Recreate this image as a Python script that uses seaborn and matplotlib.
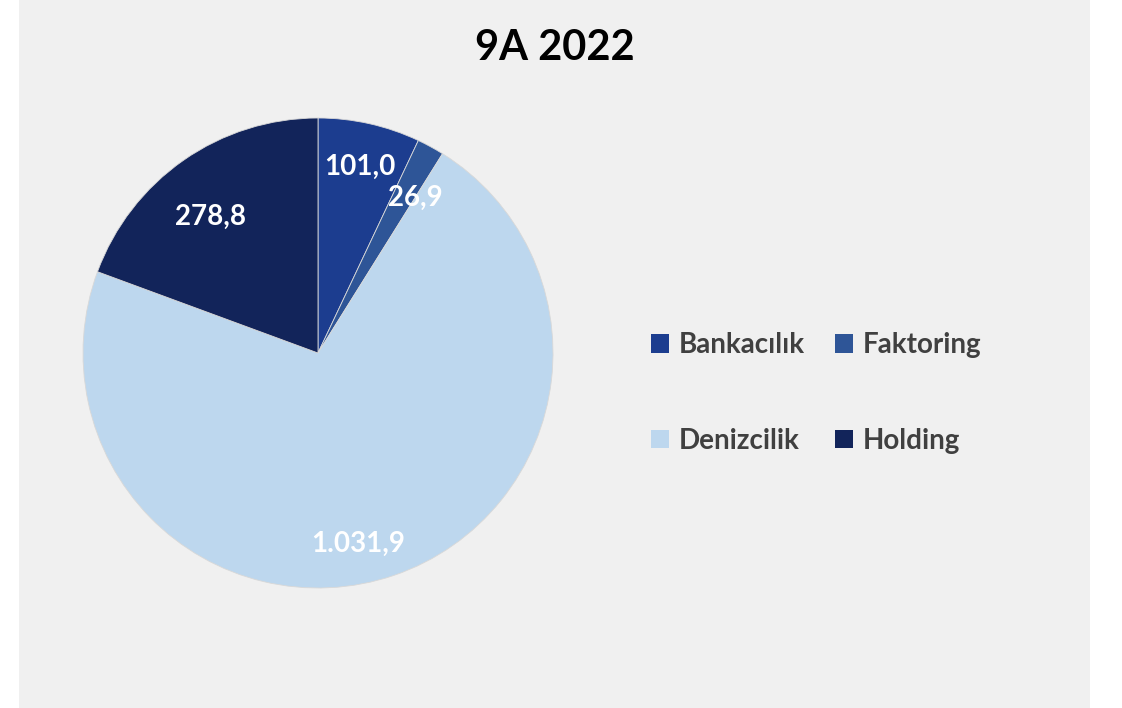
import numpy as np
import matplotlib.pyplot as plt
import matplotlib.patches as mpatches
import seaborn as sns

categories = ["Bankacılık", "Faktoring", "Denizcilik", "Holding"]
values = [101.0, 26.9, 1031.9, 278.8]
title = "9A 2022"

colors = sns.color_palette(["#1C3D8F", "#2E5597", "#BDD7EE", "#12245A"])


def tr_format(v):
    # turkish number style: dot thousands, comma decimal
    s = f"{v:,.1f}"
    return s.replace(",", "X").replace(".", ",").replace("X", ".")


sns.set_theme(style="white")
plt.rcParams["font.family"] = ["Lato", "DejaVu Sans"]

fig = plt.figure(figsize=(11.22, 7.08), dpi=100, facecolor="white")
fig.patches.append(mpatches.Rectangle((19 / 1122, 0), (1090 - 19) / 1122, 1,
                                      transform=fig.transFigure,
                                      facecolor="#F0F0F0", edgecolor="none",
                                      zorder=-5))

cx, cy, r = 318, 353, 235
ax = fig.add_axes([(cx - r) / 1122, (708 - cy - r) / 708, 2 * r / 1122, 2 * r / 708])
ax.set_facecolor("none")
ax.set_zorder(2)

total = sum(values)
wedges, texts, autotexts = ax.pie(
    values,
    colors=colors,
    startangle=90,
    counterclock=False,
    autopct=lambda p: tr_format(p * total / 100),
    pctdistance=0.8,
    wedgeprops=dict(edgecolor="#d8d8d8", linewidth=0.6),
    textprops=dict(color="white", fontsize=20, fontweight="bold"),
)

# nudge labels a bit like excel's best-fit placement
label_dist = [0.81, 0.78, 0.83, 0.74]
angle_shift = [0, 3.5, 7, -3.5]
for w, t, d, s in zip(wedges, autotexts, label_dist, angle_shift):
    mid = np.deg2rad((w.theta1 + w.theta2) / 2 - s)
    t.set_position((d * np.cos(mid), d * np.sin(mid)))

ax.set_xlim(-1, 1)
ax.set_ylim(-1, 1)
ax.set_aspect("equal")

fig.text(555 / 1122, 1 - 48 / 708, title, ha="center", va="center",
         fontsize=30, fontweight="bold", color="black")

# legend fills column-wise, so reorder to get rows: Bankacılık/Faktoring, Denizcilik/Holding
order = [0, 2, 1, 3]
handles = [mpatches.Patch(facecolor=colors[i], edgecolor="none") for i in order]
labels = [categories[i] for i in order]
fig.legend(handles, labels, loc="center left",
           bbox_to_anchor=(637 / 1122, 1 - 393 / 708),
           ncol=2, frameon=False, borderpad=0,
           prop=dict(size=20, weight="bold"),
           labelcolor="#404040", handlelength=0.65, handleheight=0.65,
           handletextpad=0.35, columnspacing=1.1, labelspacing=2.5)

fig.savefig("out.png", dpi=100, facecolor="white")
